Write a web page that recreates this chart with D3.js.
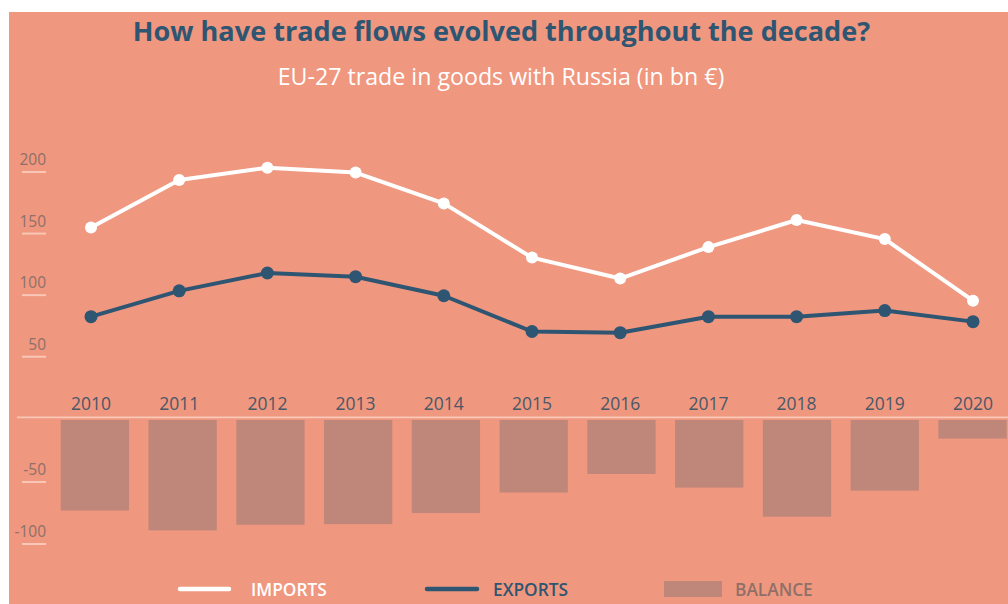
<!DOCTYPE html>
<html>
<head>
<meta charset="utf-8">
<script src="https://cdn.jsdelivr.net/npm/d3@7"></script>
<style>
  html, body { margin: 0; padding: 0; background: #ffffff; }
  svg { display: block; font-family: "Open Sans", "Noto Sans", sans-serif; }
</style>
</head>
<body>
<svg id="chart" width="1008" height="604"></svg>
<script>
// EU-27 trade in goods with Russia, bn €
const years = ["2010", "2011", "2012", "2013", "2014", "2015", "2016", "2017", "2018", "2019", "2020"];
const imports = [155, 193.5, 203.5, 199.5, 174.5, 130.5, 113.5, 139, 161, 145.5, 95.5];
const exports = [82.5, 103.5, 118, 115, 99.5, 70.5, 69.5, 82.5, 82.5, 87.5, 78.5];
const balance = [-73, -89, -84.5, -84, -75, -58.5, -43.5, -54.5, -78, -57, -15];
const topTicks = [50, 100, 150, 200];
const bottomTicks = [-50, -100];

const bg = "#f0977f";
const darkBlue = "#2e5572";
const barColor = "#bf877a";
const pale = "#f8c7b7";
const tickText = "#8e7069";
const yearText = "#4a5868";

const svg = d3.select("#chart");

// coloured panel
svg.append("rect")
  .attr("x", 9).attr("y", 12)
  .attr("width", 1008 - 9).attr("height", 604 - 12)
  .attr("fill", bg);

// titles
svg.append("text")
  .attr("x", 501.5).attr("y", 41)
  .attr("text-anchor", "middle")
  .attr("font-size", 27.1).attr("font-weight", 700)
  .attr("fill", darkBlue)
  .text("How have trade flows evolved throughout the decade?");

svg.append("text")
  .attr("x", 501).attr("y", 85)
  .attr("text-anchor", "middle")
  .attr("font-size", 23.2).attr("font-weight", 400)
  .attr("fill", "#ffffff")
  .text("EU-27 trade in goods with Russia (in bn €)");

// scales: points for the lines, bands for the balance bars
const x = d3.scaleBand()
  .domain(years)
  .range([46.9, 1017.1])
  .paddingInner(0.223)
  .paddingOuter(0.1115);
const cx = d => x(d) + x.bandwidth() / 2;

const xBar = d3.scaleBand()
  .domain(years)
  .range([51, 1016.4])
  .paddingInner(0.222)
  .paddingOuter(0.111);

const yTop = d3.scaleLinear().domain([0, 200]).range([418.3, 172]);
const yBottom = d3.scaleLinear().domain([0, -100]).range([420, 544]);

// y ticks: value above a short underline
function drawTicks(ticks, scale) {
  const g = svg.append("g");
  const t = g.selectAll("g").data(ticks).join("g")
    .attr("transform", d => `translate(0,${scale(d)})`);
  t.append("line")
    .attr("x1", 22).attr("x2", 46)
    .attr("stroke", pale).attr("stroke-width", 2);
  t.append("text")
    .attr("x", 46).attr("y", -7)
    .attr("text-anchor", "end")
    .attr("font-size", 15.5)
    .attr("fill", tickText)
    .text(d => d);
}
drawTicks(topTicks, yTop);
drawTicks(bottomTicks, yBottom);

// balance bars
svg.append("g").selectAll("rect")
  .data(balance)
  .join("rect")
  .attr("x", (d, i) => xBar(years[i]))
  .attr("y", yBottom(0))
  .attr("width", xBar.bandwidth())
  .attr("height", d => yBottom(d) - yBottom(0))
  .attr("fill", barColor);

// baseline
svg.append("line")
  .attr("x1", 17).attr("x2", 1008)
  .attr("y1", 417.3).attr("y2", 417.3)
  .attr("stroke", pale).attr("stroke-width", 1.8);

// year labels
svg.append("g").selectAll("text")
  .data(years)
  .join("text")
  .attr("x", d => cx(d))
  .attr("y", 410)
  .attr("text-anchor", "middle")
  .attr("font-size", 17.5)
  .attr("fill", yearText)
  .text(d => d);

// lines with markers
function drawSeries(values, color, r) {
  const line = d3.line()
    .x((d, i) => cx(years[i]))
    .y(d => yTop(d));
  svg.append("path")
    .datum(values)
    .attr("d", line)
    .attr("fill", "none")
    .attr("stroke", color)
    .attr("stroke-width", 4)
    .attr("stroke-linejoin", "round");
  svg.append("g").selectAll("circle")
    .data(values)
    .join("circle")
    .attr("cx", (d, i) => cx(years[i]))
    .attr("cy", d => yTop(d))
    .attr("r", r)
    .attr("fill", color);
}
drawSeries(imports, "#ffffff", 6);
drawSeries(exports, darkBlue, 6.5);

// legend
const legendY = 589;
const legend = svg.append("g");
legend.append("line")
  .attr("x1", 180).attr("x2", 229)
  .attr("y1", legendY).attr("y2", legendY)
  .attr("stroke", "#ffffff").attr("stroke-width", 4.5).attr("stroke-linecap", "round");
legend.append("text")
  .attr("x", 251).attr("y", legendY + 6.5)
  .attr("font-size", 17.3).attr("font-weight", 600)
  .attr("fill", "#ffffff")
  .text("IMPORTS");

legend.append("line")
  .attr("x1", 427).attr("x2", 477)
  .attr("y1", legendY).attr("y2", legendY)
  .attr("stroke", darkBlue).attr("stroke-width", 4.5).attr("stroke-linecap", "round");
legend.append("text")
  .attr("x", 493).attr("y", legendY + 6.5)
  .attr("font-size", 17.3).attr("font-weight", 600)
  .attr("fill", darkBlue)
  .text("EXPORTS");

legend.append("rect")
  .attr("x", 664).attr("y", legendY - 8)
  .attr("width", 58).attr("height", 16)
  .attr("fill", barColor);
legend.append("text")
  .attr("x", 735).attr("y", legendY + 6.5)
  .attr("font-size", 17.3).attr("font-weight", 600)
  .attr("fill", tickText)
  .text("BALANCE");
</script>
</body>
</html>
